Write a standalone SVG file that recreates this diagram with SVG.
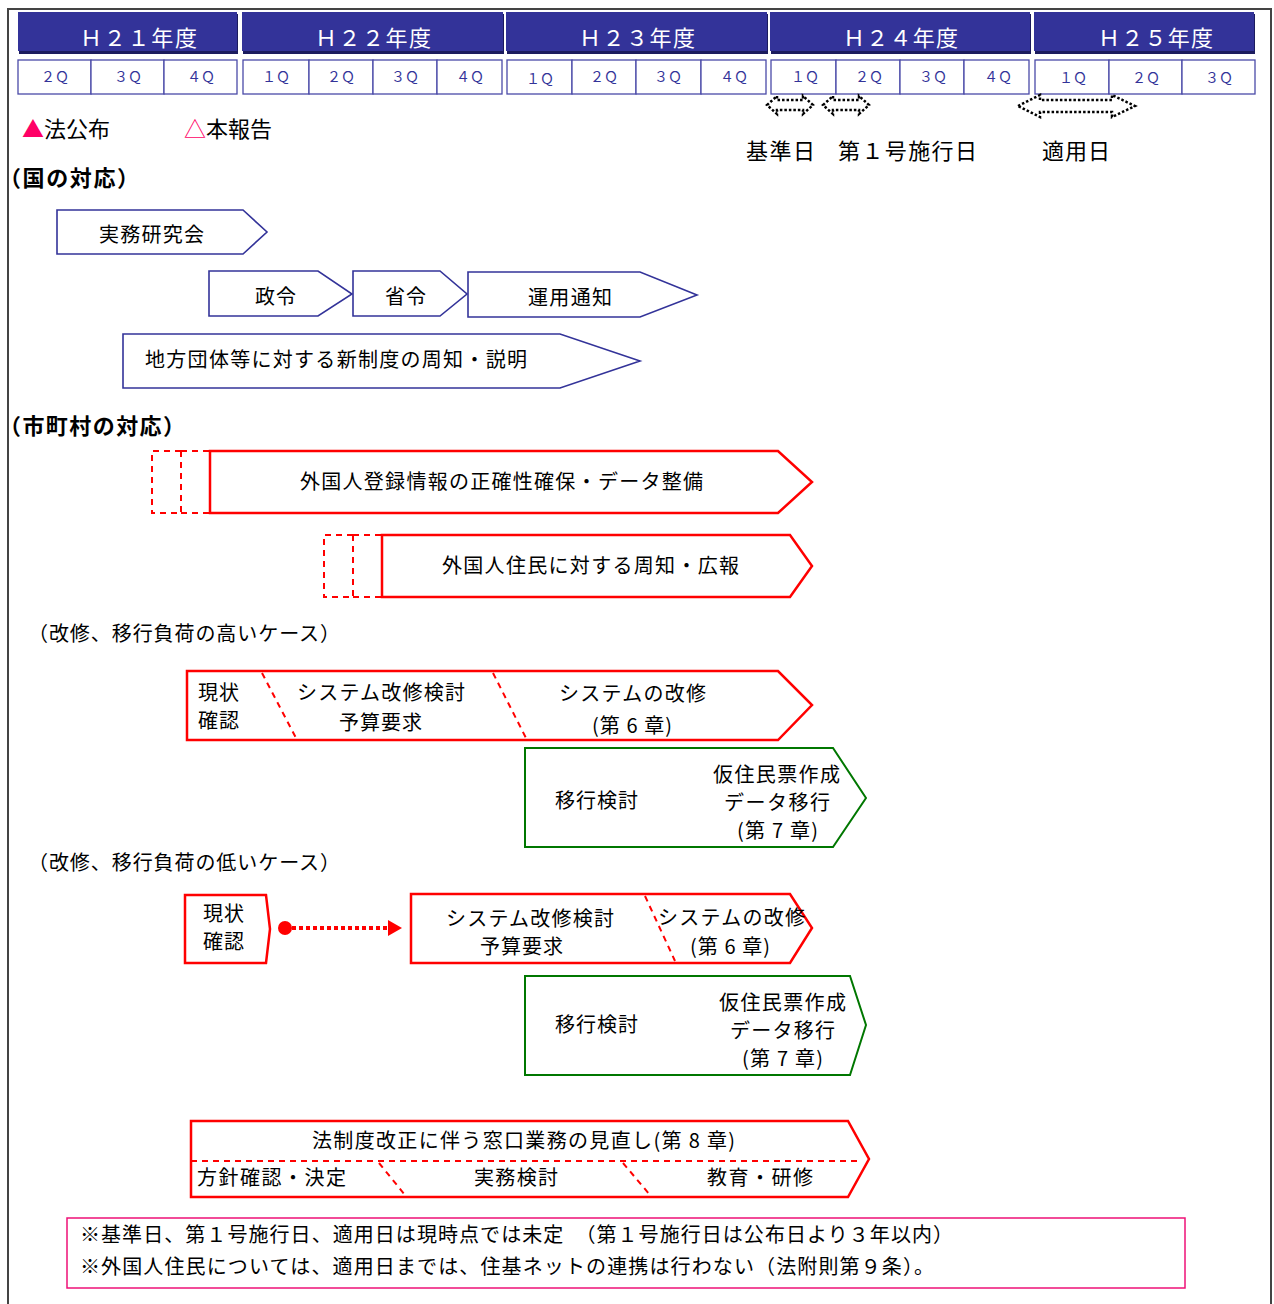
<svg xmlns="http://www.w3.org/2000/svg" width="1274" height="1304" viewBox="0 0 1274 1304">
<style>
.hdr{fill:#333399}
.hsh{fill:#1c1c5e}
.ht{font-family:"Noto Sans CJK JP",sans-serif;font-size:22px;fill:#fff;dominant-baseline:central}
.q{fill:#fff;stroke:#4a4aa8;stroke-width:1.3}
.qt{font-family:"Noto Sans CJK JP",sans-serif;font-size:14px;fill:#333399;text-anchor:middle;dominant-baseline:central}
.blue{fill:#fff;stroke:#333399;stroke-width:1.6}
.red{fill:#fff;stroke:#ff0000;stroke-width:2.5}
.green{fill:#fff;stroke:#007700;stroke-width:2}
.dash{stroke:#ff0000;stroke-width:2;stroke-dasharray:6,5;fill:none}
.dot{fill:none;stroke:#000;stroke-width:2.5;stroke-dasharray:2.5,2}
.t{font-family:"Noto Sans CJK JP",sans-serif;font-size:20px;fill:#000;dominant-baseline:central}
.lg{font-size:22px}
.b{font-weight:bold;font-size:22px}
.pink{fill:#ff0066}
</style>
<path d="M8,1304 V9 H1271 V1304" fill="none" stroke="#444" stroke-width="2"/>

<g id="years">
<rect class="hsh" x="19" y="14" width="219" height="40"/><rect class="hdr" x="18" y="12" width="219" height="39"/>
<rect class="hsh" x="243" y="14" width="261" height="40"/><rect class="hdr" x="242" y="12" width="261" height="39"/>
<rect class="hsh" x="507" y="14" width="261" height="40"/><rect class="hdr" x="506" y="12" width="261" height="39"/>
<rect class="hsh" x="771" y="14" width="260" height="40"/><rect class="hdr" x="770" y="12" width="260" height="39"/>
<rect class="hsh" x="1035" y="14" width="220" height="40"/><rect class="hdr" x="1034" y="12" width="220" height="39"/>
<text class="ht" x="80" y="36" textLength="117">Ｈ２１年度</text>
<text class="ht" x="315" y="36" textLength="116">Ｈ２２年度</text>
<text class="ht" x="579" y="36" textLength="116">Ｈ２３年度</text>
<text class="ht" x="843" y="36" textLength="115">Ｈ２４年度</text>
<text class="ht" x="1098" y="36" textLength="115">Ｈ２５年度</text>
</g>

<g id="quarters">
<rect class="q" x="18" y="60" width="73" height="34"/><rect class="q" x="91" y="60" width="73" height="34"/><rect class="q" x="164" y="60" width="73" height="34"/>
<rect class="q" x="243" y="60" width="66" height="34"/><rect class="q" x="309" y="60" width="64" height="34"/><rect class="q" x="373" y="60" width="64" height="34"/><rect class="q" x="437" y="60" width="65" height="34"/>
<rect class="q" x="507" y="60" width="65" height="34"/><rect class="q" x="572" y="60" width="64" height="34"/><rect class="q" x="636" y="60" width="65" height="34"/><rect class="q" x="701" y="60" width="65" height="34"/>
<rect class="q" x="771" y="60" width="65" height="34"/><rect class="q" x="836" y="60" width="64" height="34"/><rect class="q" x="900" y="60" width="64" height="34"/><rect class="q" x="964" y="60" width="65" height="34"/>
<rect class="q" x="1035" y="60" width="74" height="34"/><rect class="q" x="1109" y="60" width="73" height="34"/><rect class="q" x="1182" y="60" width="73" height="34"/>
<text class="qt" x="55" y="76">２Ｑ</text><text class="qt" x="128" y="76">３Ｑ</text><text class="qt" x="201" y="76">４Ｑ</text>
<text class="qt" x="276" y="76">１Ｑ</text><text class="qt" x="341" y="76">２Ｑ</text><text class="qt" x="405" y="76">３Ｑ</text><text class="qt" x="470" y="76">４Ｑ</text>
<text class="qt" x="540" y="78">１Ｑ</text><text class="qt" x="604" y="76">２Ｑ</text><text class="qt" x="668" y="76">３Ｑ</text><text class="qt" x="734" y="76">４Ｑ</text>
<text class="qt" x="805" y="76">１Ｑ</text><text class="qt" x="869" y="76">２Ｑ</text><text class="qt" x="933" y="76">３Ｑ</text><text class="qt" x="998" y="76">４Ｑ</text>
<text class="qt" x="1073" y="77">１Ｑ</text><text class="qt" x="1146" y="77">２Ｑ</text><text class="qt" x="1219" y="77">３Ｑ</text>
</g>

<g id="milestones">
<polygon class="dot" points="767,105 777,96 777,100 803,100 803,96 813,105 803,114 803,110 777,110 777,114"/>
<polygon class="dot" points="823,105 833,96 833,100 859,100 859,96 869,105 859,114 859,110 833,110 833,114"/>
<polygon class="dot" points="1018,106 1040,95 1040,100 1112,100 1112,95 1135,106 1112,117 1112,112 1040,112 1040,117"/>
<text class="t lg" x="746" y="149" textLength="69">基準日</text>
<text class="t lg" x="838" y="149" textLength="139">第１号施行日</text>
<text class="t lg" x="1042" y="149" textLength="68">適用日</text>
</g>

<g id="legend">
<text class="t lg" x="22" y="127"><tspan class="pink">▲</tspan>法公布</text>
<text class="t lg" x="184" y="127"><tspan class="pink">△</tspan>本報告</text>
</g>

<text class="t b" x="-1" y="176" textLength="140">（国の対応）</text>
<text class="t b" x="-1" y="424" textLength="186">（市町村の対応）</text>

<g id="n-jitsumu-kenkyukai">
<polygon class="blue" points="57,210 243,210 267,232 243,254 57,254"/>
<text class="t" x="99" y="233" textLength="105">実務研究会</text>
</g>
<g id="n-seirei">
<polygon class="blue" points="209,271 318,271 352,294 318,316 209,316"/>
<text class="t" x="255" y="295" textLength="41">政令</text>
</g>
<g id="n-shorei">
<polygon class="blue" points="353,271 440,271 467,294 440,316 353,316"/>
<text class="t" x="385" y="295" textLength="41">省令</text>
</g>
<g id="n-unyo-tsuchi">
<polygon class="blue" points="468,272 640,272 697,295 640,317 468,317"/>
<text class="t" x="528" y="296" textLength="84">運用通知</text>
</g>
<g id="n-shuchi-setsumei">
<polygon class="blue" points="123,334 560,334 640,361 560,388 123,388"/>
<text class="t" x="145" y="358" textLength="382">地方団体等に対する新制度の周知・説明</text>
</g>

<g id="n-seikakusei">
<path class="dash" d="M181,451 H152 V513 H181 M181,451 V513 M181,451 H210 M181,513 H210"/>
<polygon class="red" points="210,451 778,451 812,482 778,513 210,513"/>
<text class="t" x="300" y="480" textLength="403">外国人登録情報の正確性確保・データ整備</text>
</g>
<g id="n-koho">
<path class="dash" d="M353,535 H324 V597 H353 M353,535 V597 M353,535 H382 M353,597 H382"/>
<polygon class="red" points="382,535 790,535 812,566 790,597 382,597"/>
<text class="t" x="442" y="564" textLength="297">外国人住民に対する周知・広報</text>
</g>

<text class="t" x="28" y="632" textLength="312">（改修、移行負荷の高いケース）</text>

<g id="n-high-system">
<polygon class="red" points="187,671 778,671 812,705 778,740 187,740"/>
<path class="dash" d="M262,673 L296,738 M493,673 L526,738"/>
<text class="t" x="198" y="691" textLength="41">現状</text>
<text class="t" x="198" y="719" textLength="41">確認</text>
<text class="t" x="297" y="691" textLength="168">システム改修検討</text>
<text class="t" x="339" y="721" textLength="83">予算要求</text>
<text class="t" x="559" y="692" textLength="147">システムの改修</text>
<text class="t" x="592" y="724" textLength="80">(第 6 章)</text>
</g>
<g id="n-high-migration">
<polygon class="green" points="525,748 833,748 866,798 833,847 525,847"/>
<text class="t" x="555" y="799" textLength="83">移行検討</text>
<text class="t" x="713" y="773" textLength="127">仮住民票作成</text>
<text class="t" x="724" y="801" textLength="106">データ移行</text>
<text class="t" x="737" y="829" textLength="81">(第 7 章)</text>
</g>

<text class="t" x="28" y="861" textLength="312">（改修、移行負荷の低いケース）</text>

<g id="n-low-genjo">
<polygon class="red" points="185,895 266,895 270,929 266,963 185,963"/>
<text class="t" x="203" y="912" textLength="41">現状</text>
<text class="t" x="203" y="940" textLength="41">確認</text>
</g>
<g id="n-low-system">
<polygon class="red" points="411,894 790,894 812,928 790,963 411,963"/>
<path class="dash" d="M645,896 L675,961"/>
<text class="t" x="446" y="917" textLength="168">システム改修検討</text>
<text class="t" x="480" y="945" textLength="83">予算要求</text>
<text class="t" x="658" y="916" textLength="147">システムの改修</text>
<text class="t" x="690" y="945" textLength="80">(第 6 章)</text>
</g>
<g id="n-low-migration">
<polygon class="green" points="525,976 850,976 866,1025 850,1075 525,1075"/>
<text class="t" x="555" y="1023" textLength="83">移行検討</text>
<text class="t" x="719" y="1001" textLength="127">仮住民票作成</text>
<text class="t" x="730" y="1029" textLength="105">データ移行</text>
<text class="t" x="742" y="1057" textLength="81">(第 7 章)</text>
</g>

<g id="connectors">
<circle cx="285" cy="928" r="7" fill="#ff0000"/>
<line x1="292" y1="928" x2="389" y2="928" stroke="#ff0000" stroke-width="4" stroke-dasharray="4,3"/>
<polygon points="388,920 402,928 388,936" fill="#ff0000"/>
</g>

<g id="n-madoguchi">
<polygon class="red" points="191,1121 848,1121 869,1159 848,1197 191,1197"/>
<path class="dash" d="M191,1161 H860 M379,1163 L405,1195 M623,1163 L650,1195"/>
<text class="t" x="312" y="1139" textLength="423">法制度改正に伴う窓口業務の見直し(第 8 章)</text>
<text class="t" x="197" y="1176" textLength="149">方針確認・決定</text>
<text class="t" x="474" y="1176" textLength="84">実務検討</text>
<text class="t" x="707" y="1176" textLength="106">教育・研修</text>
</g>

<g id="note">
<rect x="67" y="1218" width="1118" height="70" fill="#fff" stroke="#ee1177" stroke-width="1.5"/>
<text class="t" x="80" y="1233" textLength="873">※基準日、第１号施行日、適用日は現時点では未定　（第１号施行日は公布日より３年以内）</text>
<text class="t" x="80" y="1265" textLength="854">※外国人住民については、適用日までは、住基ネットの連携は行わない（法附則第９条）。</text>
</g>
</svg>
